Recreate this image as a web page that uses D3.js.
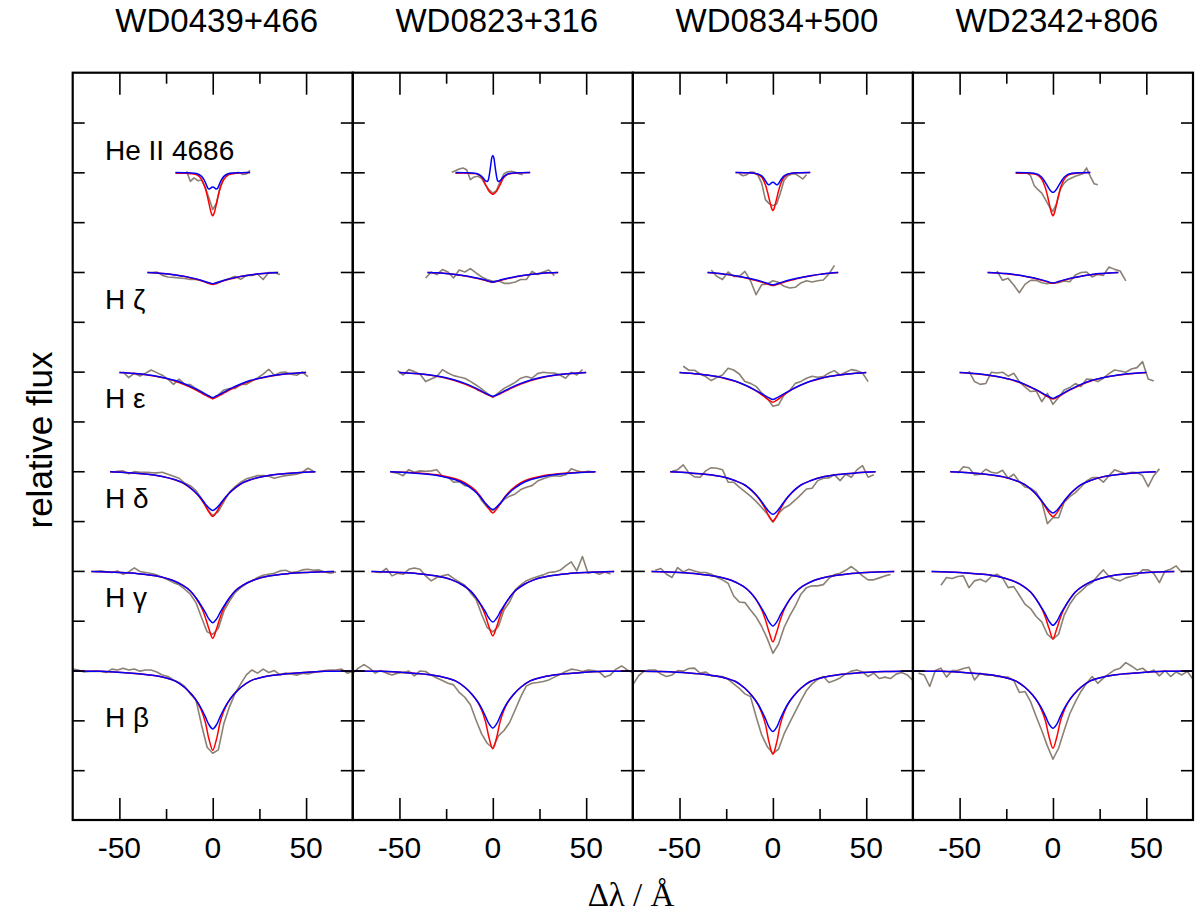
<!DOCTYPE html>
<html><head><meta charset="utf-8">
<script src="https://cdnjs.cloudflare.com/ajax/libs/d3/7.8.5/d3.min.js"></script>
<style>body{margin:0;background:#fff}</style>
</head><body><svg id="c" width="1200" height="913"></svg>
<script>
// ---------------- DATA ----------------
const stars = ["WD0439+466","WD0823+316","WD0834+500","WD2342+806"];
const lineLabels = ["He II 4686","H \u03b6","H \u03b5","H \u03b4","H \u03b3","H \u03b2"];
const lineOffsets = [2.5, 2.0, 1.5, 1.0, 0.5, 0.0];
const xTickMajor = [-50, 0, 50];
const xTickMinor = [-25, 25];
const xTickLabels = ["-50", "0", "50"];
const yTickValues = [0.5,0.75,1.0,1.25,1.5,1.75,2.0,2.25,2.5,2.75,3.0,3.25,3.5,3.75];

// model wavelength grids (Δλ / Å)
const modX_HeII = [-20,-14,-10,-8,-6,-5,-4,-3,-2.5,-2,-1.5,-1,-0.5,0,0.5,1,1.5,2,2.5,3,4,5,6,8,10,14,20];
const modX_Hz = [-35,-30,-25,-20,-15,-10,-5,-2,0,2,5,10,15,20,25,30,35];
const modX_He = [-50,-40,-30,-25,-20,-15,-10,-7,-4,-2,0,2,4,7,10,15,20,25,30,40,50];
const modX_Hd = [-55,-45,-35,-27,-20,-15,-10,-7,-4,-2,0,2,4,7,10,15,20,27,35,45,55];
const modX_Hg = [-65,-50,-40,-30,-22,-16,-12,-9,-6,-4,-2,0,2,4,6,9,12,16,22,30,40,50,65];
const modX_Hb = [-75,-60,-45,-35,-27,-20,-15,-11,-8,-6,-4,-2,0,2,4,6,8,11,15,20,27,35,45,60,75];

// red models, one array per star
const red_HeII = [
 [0.995,0.995,0.992,0.985,0.965,0.945,0.920,0.885,0.865,0.843,0.822,0.803,0.789,0.782,0.789,0.803,0.822,0.843,0.865,0.885,0.920,0.945,0.965,0.985,0.992,0.997,0.999],
 [0.996,0.996,0.994,0.990,0.975,0.960,0.940,0.922,0.912,0.905,0.900,0.895,0.892,0.890,0.892,0.895,0.900,0.905,0.912,0.922,0.940,0.960,0.975,0.990,0.994,0.997,0.999],
 [0.999,0.998,0.995,0.990,0.975,0.960,0.938,0.905,0.887,0.867,0.848,0.830,0.815,0.808,0.815,0.830,0.848,0.867,0.887,0.905,0.938,0.960,0.975,0.990,0.995,0.998,0.999],
 [0.995,0.995,0.992,0.985,0.965,0.945,0.920,0.885,0.865,0.843,0.822,0.803,0.789,0.782,0.789,0.803,0.822,0.843,0.865,0.885,0.920,0.945,0.965,0.985,0.992,0.997,0.999]];
const blue_HeII = [
 [0.999,0.998,0.996,0.992,0.980,0.968,0.950,0.928,0.919,0.916,0.918,0.922,0.925,0.926,0.925,0.922,0.918,0.916,0.919,0.928,0.950,0.968,0.980,0.992,0.996,0.998,0.999],
 [0.999,0.998,0.996,0.992,0.980,0.970,0.958,0.954,0.960,0.980,1.010,1.045,1.075,1.085,1.075,1.045,1.010,0.980,0.960,0.954,0.958,0.970,0.980,0.992,0.996,0.998,0.999],
 [0.999,0.998,0.996,0.992,0.982,0.972,0.958,0.943,0.939,0.938,0.941,0.945,0.949,0.950,0.949,0.945,0.941,0.938,0.939,0.943,0.958,0.972,0.982,0.992,0.996,0.998,0.999],
 [0.999,0.998,0.995,0.990,0.975,0.963,0.948,0.932,0.924,0.917,0.910,0.905,0.901,0.900,0.901,0.905,0.910,0.917,0.924,0.932,0.948,0.963,0.975,0.990,0.995,0.998,0.999]];
const red_Hz = [
 [0.998,0.995,0.991,0.985,0.977,0.966,0.953,0.942,0.937,0.942,0.953,0.966,0.977,0.985,0.991,0.995,0.998],
 [0.998,0.996,0.992,0.987,0.980,0.971,0.960,0.952,0.948,0.952,0.960,0.971,0.980,0.987,0.992,0.996,0.998],
 [0.997,0.993,0.988,0.980,0.971,0.959,0.946,0.937,0.932,0.937,0.946,0.959,0.971,0.980,0.988,0.993,0.997],
 [0.998,0.995,0.991,0.986,0.978,0.969,0.956,0.947,0.943,0.947,0.956,0.969,0.978,0.986,0.991,0.995,0.998]];
const blue_Hz = [
 [0.998,0.995,0.991,0.985,0.978,0.968,0.955,0.946,0.941,0.946,0.955,0.968,0.978,0.985,0.991,0.995,0.998],
 [0.998,0.996,0.992,0.987,0.981,0.972,0.962,0.954,0.950,0.954,0.962,0.972,0.981,0.987,0.992,0.996,0.998],
 [0.997,0.994,0.988,0.981,0.972,0.962,0.949,0.940,0.936,0.940,0.949,0.962,0.972,0.981,0.988,0.994,0.997],
 [0.998,0.995,0.992,0.986,0.979,0.970,0.958,0.949,0.945,0.949,0.958,0.970,0.979,0.986,0.992,0.995,0.998]];
const red_He = [
 [0.996,0.989,0.976,0.966,0.952,0.934,0.913,0.897,0.882,0.872,0.864,0.872,0.882,0.897,0.913,0.934,0.952,0.966,0.976,0.989,0.996],
 [0.996,0.989,0.977,0.967,0.954,0.937,0.917,0.903,0.889,0.881,0.874,0.881,0.889,0.903,0.917,0.937,0.954,0.967,0.977,0.989,0.996],
 [0.996,0.988,0.975,0.964,0.951,0.932,0.908,0.891,0.870,0.856,0.846,0.856,0.870,0.891,0.908,0.932,0.951,0.964,0.975,0.988,0.996],
 [0.996,0.988,0.975,0.965,0.952,0.934,0.912,0.897,0.880,0.870,0.863,0.870,0.880,0.897,0.912,0.934,0.952,0.965,0.975,0.988,0.996]];
const blue_He = [
 [0.996,0.989,0.977,0.967,0.955,0.938,0.917,0.902,0.887,0.878,0.870,0.878,0.887,0.902,0.917,0.938,0.955,0.967,0.977,0.989,0.996],
 [0.996,0.989,0.978,0.969,0.957,0.941,0.921,0.907,0.892,0.883,0.876,0.883,0.892,0.907,0.921,0.941,0.957,0.969,0.978,0.989,0.996],
 [0.996,0.988,0.975,0.965,0.952,0.933,0.910,0.895,0.878,0.868,0.860,0.868,0.878,0.895,0.910,0.933,0.952,0.965,0.975,0.988,0.996],
 [0.996,0.989,0.976,0.966,0.954,0.936,0.914,0.900,0.883,0.874,0.866,0.874,0.883,0.900,0.914,0.936,0.954,0.966,0.976,0.989,0.996]];
const red_Hd = [
 [0.997,0.993,0.985,0.974,0.956,0.936,0.900,0.870,0.828,0.795,0.774,0.795,0.828,0.870,0.900,0.936,0.956,0.974,0.985,0.993,0.997],
 [0.997,0.994,0.987,0.978,0.962,0.943,0.908,0.878,0.838,0.810,0.791,0.810,0.838,0.878,0.908,0.943,0.962,0.978,0.987,0.994,0.997],
 [0.997,0.992,0.984,0.972,0.952,0.930,0.890,0.857,0.810,0.773,0.750,0.773,0.810,0.857,0.890,0.930,0.952,0.972,0.984,0.992,0.997],
 [0.997,0.993,0.984,0.972,0.953,0.932,0.893,0.861,0.820,0.790,0.772,0.790,0.820,0.861,0.893,0.932,0.953,0.972,0.984,0.993,0.997]];
const blue_Hd = [
 [0.997,0.993,0.985,0.974,0.957,0.937,0.901,0.872,0.836,0.815,0.803,0.815,0.836,0.872,0.901,0.937,0.957,0.974,0.985,0.993,0.997],
 [0.997,0.993,0.985,0.974,0.957,0.936,0.902,0.874,0.840,0.820,0.808,0.820,0.840,0.874,0.902,0.936,0.957,0.974,0.985,0.993,0.997],
 [0.997,0.992,0.984,0.972,0.952,0.931,0.892,0.860,0.821,0.797,0.784,0.797,0.821,0.860,0.892,0.931,0.952,0.972,0.984,0.992,0.997],
 [0.997,0.993,0.984,0.973,0.954,0.933,0.895,0.863,0.826,0.803,0.790,0.803,0.826,0.863,0.895,0.933,0.954,0.973,0.984,0.993,0.997]];
const red_Hg = [
 [0.997,0.992,0.986,0.974,0.954,0.927,0.899,0.864,0.815,0.768,0.708,0.662,0.708,0.768,0.815,0.864,0.899,0.927,0.954,0.974,0.986,0.992,0.997],
 [0.997,0.992,0.986,0.974,0.955,0.928,0.900,0.866,0.820,0.776,0.718,0.674,0.718,0.776,0.820,0.866,0.900,0.928,0.955,0.974,0.986,0.992,0.997],
 [0.997,0.992,0.985,0.972,0.952,0.923,0.892,0.856,0.805,0.755,0.692,0.644,0.692,0.755,0.805,0.856,0.892,0.923,0.952,0.972,0.985,0.992,0.997],
 [0.997,0.992,0.985,0.973,0.952,0.924,0.894,0.858,0.810,0.766,0.708,0.660,0.708,0.766,0.810,0.858,0.894,0.924,0.952,0.973,0.985,0.992,0.997]];
const blue_Hg = [
 [0.997,0.992,0.986,0.974,0.954,0.927,0.899,0.865,0.823,0.792,0.758,0.740,0.758,0.792,0.823,0.865,0.899,0.927,0.954,0.974,0.986,0.992,0.997],
 [0.997,0.992,0.986,0.974,0.955,0.928,0.900,0.867,0.826,0.795,0.762,0.744,0.762,0.795,0.826,0.867,0.900,0.928,0.955,0.974,0.986,0.992,0.997],
 [0.997,0.992,0.985,0.972,0.952,0.923,0.892,0.857,0.812,0.779,0.743,0.724,0.743,0.779,0.812,0.857,0.892,0.923,0.952,0.972,0.985,0.992,0.997],
 [0.997,0.992,0.985,0.973,0.952,0.924,0.894,0.858,0.814,0.782,0.746,0.727,0.746,0.782,0.814,0.858,0.894,0.924,0.952,0.973,0.985,0.992,0.997]];
const red_Hb = [
 [0.998,0.996,0.988,0.979,0.968,0.947,0.915,0.877,0.837,0.798,0.742,0.655,0.600,0.655,0.742,0.798,0.837,0.877,0.915,0.947,0.968,0.979,0.988,0.996,0.998],
 [0.998,0.996,0.988,0.980,0.968,0.948,0.916,0.879,0.840,0.802,0.747,0.662,0.607,0.662,0.747,0.802,0.840,0.879,0.916,0.948,0.968,0.980,0.988,0.996,0.998],
 [0.998,0.995,0.988,0.979,0.966,0.945,0.911,0.871,0.830,0.788,0.730,0.638,0.580,0.638,0.730,0.788,0.830,0.871,0.911,0.945,0.966,0.979,0.988,0.995,0.998],
 [0.998,0.996,0.988,0.980,0.968,0.948,0.916,0.878,0.839,0.800,0.747,0.664,0.610,0.664,0.747,0.800,0.839,0.878,0.916,0.948,0.968,0.980,0.988,0.996,0.998]];
const blue_Hb = [
 [0.998,0.996,0.988,0.979,0.968,0.947,0.915,0.877,0.839,0.807,0.769,0.728,0.707,0.728,0.769,0.807,0.839,0.877,0.915,0.947,0.968,0.979,0.988,0.996,0.998],
 [0.998,0.996,0.988,0.980,0.968,0.948,0.916,0.879,0.842,0.810,0.772,0.732,0.712,0.732,0.772,0.810,0.842,0.879,0.916,0.948,0.968,0.980,0.988,0.996,0.998],
 [0.998,0.995,0.988,0.979,0.966,0.945,0.911,0.871,0.832,0.798,0.758,0.715,0.694,0.715,0.758,0.798,0.832,0.871,0.911,0.945,0.966,0.979,0.988,0.995,0.998],
 [0.998,0.996,0.988,0.980,0.968,0.948,0.916,0.878,0.840,0.809,0.771,0.730,0.710,0.730,0.771,0.809,0.840,0.878,0.916,0.948,0.968,0.980,0.988,0.996,0.998]];

// observed wavelength grids
const obsX_HeII = [-22,-20,-18,-16,-14,-12,-10,-8,-6,-4,-2,0,2,4,6,8,10,12,14,16,18,20,22,24,26];
const obsX_Hz = [-39,-36,-33,-30,-27,-24,-21,-18,-15,-12,-9,-6,-3,0,3,6,9,12,15,18,21,24,27,30,33,36,39];
const obsX_He = [-54,-51,-48,-45,-42,-39,-36,-33,-30,-27,-24,-21,-18,-15,-12,-9,-6,-3,0,3,6,9,12,15,18,21,24,27,30,33,36,39,42,45,48,51,54];
const obsX_Hd = [-57,-54,-51,-48,-45,-42,-39,-36,-33,-30,-27,-24,-21,-18,-15,-12,-9,-6,-3,0,3,6,9,12,15,18,21,24,27,30,33,36,39,42,45,48,51,54,57,60];
const obsX_Hg = [-66,-63,-60,-57,-54,-51,-48,-45,-42,-39,-36,-33,-30,-27,-24,-21,-18,-15,-12,-9,-6,-3,0,3,6,9,12,15,18,21,24,27,30,33,36,39,42,45,48,51,54,57,60,63,66,69];
const obsX_Hb = [-75,-72,-69,-66,-63,-60,-57,-54,-51,-48,-45,-42,-39,-36,-33,-30,-27,-24,-21,-18,-15,-12,-9,-6,-3,0,3,6,9,12,15,18,21,24,27,30,33,36,39,42,45,48,51,54,57,60,63,66,69,72,75];

// observed spectra (null = not covered)
const obs_HeII = [
 [null,null,null,null,1.005,0.955,0.972,0.958,0.962,0.925,0.870,0.813,0.845,0.930,0.980,0.993,0.996,0.997,1.000,0.990,0.992,1.010,null,null,null],
 [1.000,1.008,1.017,1.022,1.013,0.963,0.977,0.980,0.970,0.938,0.913,0.896,0.910,0.955,0.993,1.003,1.005,1.000,0.993,0.988,null,null,null,null,null],
 [null,null,0.993,0.983,0.988,1.002,1.000,0.985,0.946,0.863,0.843,0.833,0.841,0.896,0.960,0.983,0.990,0.993,0.980,0.967,0.988,null,null,null,null],
 [null,null,null,null,1.000,0.983,0.933,0.913,0.896,0.863,0.829,0.804,0.846,0.916,0.946,0.963,0.972,0.980,0.987,0.993,1.022,0.980,0.943,0.938,null]];
const obs_Hz = [
 [null,null,0.997,1.000,0.983,0.975,0.973,0.970,0.967,0.962,0.963,0.956,0.946,0.941,0.950,0.958,0.967,0.978,0.963,0.983,0.983,0.990,0.962,0.997,0.997,0.987,null],
 [null,0.970,1.000,0.987,1.012,1.000,0.970,1.010,1.000,1.017,0.995,0.975,0.962,0.953,0.956,0.943,0.943,0.950,0.962,0.962,1.003,0.987,1.000,1.010,0.982,null,null],
 [null,null,1.010,0.978,0.962,1.000,0.978,0.978,1.003,0.956,0.886,0.936,0.940,0.956,0.948,0.928,0.920,0.923,0.945,0.956,0.950,0.956,0.960,0.990,1.033,null,null],
 [null,null,null,1.005,0.958,0.968,0.935,0.896,0.938,0.958,0.958,0.946,0.941,0.946,0.946,0.955,0.951,0.985,0.997,1.000,0.975,0.988,0.983,1.025,1.013,1.005,0.955]];
const obs_He = [
 [null,null,0.998,0.970,0.992,0.978,0.992,1.008,0.995,0.982,0.962,0.936,0.962,0.936,0.935,0.915,0.900,0.883,0.864,0.883,0.908,0.915,0.915,0.935,0.936,0.953,0.968,0.987,1.012,0.982,0.995,0.998,0.987,0.982,0.998,0.975,null],
 [null,1.005,0.983,1.010,1.000,0.988,0.950,0.963,0.975,1.010,0.993,0.980,0.973,0.967,0.951,0.933,0.913,0.891,0.871,0.893,0.916,0.930,0.946,0.967,0.975,0.967,0.990,0.997,0.993,0.993,0.983,0.967,0.997,0.983,1.010,null,null],
 [null,null,1.027,1.007,1.007,0.988,0.975,0.955,0.972,0.983,1.017,1.008,0.988,0.950,0.941,0.926,0.893,0.866,0.826,0.833,0.883,0.905,0.941,0.951,0.967,0.977,0.972,0.975,0.993,1.005,0.983,0.997,1.010,1.005,0.993,0.950,null],
 [null,null,null,1.003,0.950,0.936,0.940,0.997,0.993,0.997,0.977,0.992,0.950,0.923,0.900,0.903,0.849,0.891,0.836,0.870,0.908,0.920,0.940,0.925,0.963,0.960,0.950,0.967,0.990,1.008,1.003,0.997,1.013,1.020,1.050,0.963,0.953]];
const obs_Hd = [
 [null,0.995,1.000,1.002,0.987,0.998,0.995,0.995,0.993,0.992,0.995,0.985,0.975,0.965,0.941,0.928,0.903,0.864,0.811,0.777,0.798,0.848,0.895,0.923,0.945,0.962,0.970,0.978,0.978,0.975,0.965,0.972,0.978,0.982,0.985,0.995,1.015,1.000,null,null],
 [null,0.995,0.990,0.978,1.008,0.995,1.002,1.000,1.002,1.008,0.975,0.970,0.945,0.948,0.928,0.925,0.903,0.853,0.819,0.803,0.824,0.858,0.875,0.886,0.908,0.920,0.928,0.951,0.962,0.972,0.978,0.975,0.982,1.012,1.002,0.995,1.000,0.997,null,null],
 [null,1.000,1.008,1.032,0.992,0.972,0.970,1.002,1.018,1.015,1.008,0.945,0.945,0.920,0.898,0.875,0.849,0.818,0.786,0.744,0.789,0.816,0.831,0.856,0.883,0.911,0.915,0.953,0.965,0.967,0.982,0.953,0.985,0.970,1.007,1.028,0.970,0.982,null,null],
 [null,null,0.990,1.023,1.018,0.982,0.985,1.010,0.995,0.990,1.005,0.965,0.985,0.948,0.921,0.915,0.895,0.848,0.737,0.767,0.767,0.844,0.873,0.893,0.921,0.951,0.968,0.968,0.945,0.978,1.007,0.998,0.987,0.995,0.993,0.978,0.923,0.978,1.012,null]];
const obs_Hg = [
 [null,0.997,1.000,0.995,0.992,1.000,0.983,0.995,1.015,0.997,0.992,0.987,0.980,0.968,0.955,0.941,0.930,0.908,0.883,0.841,0.766,0.694,0.682,0.711,0.799,0.849,0.891,0.916,0.936,0.950,0.967,0.978,0.983,0.988,1.000,1.003,0.992,0.995,1.005,1.008,1.003,1.005,0.995,0.988,0.995,null],
 [null,0.995,0.992,1.012,0.975,0.988,0.983,1.008,1.015,1.008,0.975,0.950,0.967,0.975,0.982,0.962,0.945,0.928,0.891,0.858,0.782,0.716,0.694,0.721,0.804,0.844,0.905,0.930,0.951,0.962,0.972,0.980,0.992,0.995,1.003,1.025,1.045,1.000,1.072,0.988,0.995,0.983,0.995,0.985,null,null],
 [null,1.003,1.012,0.983,0.967,1.017,0.995,1.008,1.000,0.992,0.992,0.983,0.968,0.955,0.938,0.874,0.844,0.841,0.804,0.769,0.721,0.660,0.587,0.632,0.716,0.774,0.824,0.883,0.916,0.925,0.925,0.931,0.962,0.982,0.988,1.003,1.022,1.000,0.975,0.955,0.955,0.965,0.975,0.982,null,null],
 [null,null,0.928,0.967,0.962,0.972,0.975,0.916,0.950,0.958,0.945,0.972,0.983,0.965,0.916,0.921,0.878,0.833,0.811,0.771,0.744,0.682,0.657,0.682,0.777,0.833,0.874,0.898,0.925,0.941,0.975,1.005,0.972,0.958,0.950,0.965,0.972,0.978,1.005,1.005,0.987,0.941,1.000,1.008,1.025,0.992]];
const obs_Hb = [
 [1.007,1.003,0.993,0.995,0.997,0.995,0.990,1.007,1.003,1.012,1.003,1.008,0.997,1.003,1.003,0.993,0.978,0.970,0.953,0.940,0.920,0.883,0.853,0.727,0.615,0.585,0.602,0.736,0.819,0.886,0.933,0.978,1.003,0.987,1.007,0.990,1.000,0.978,0.987,0.983,0.977,0.987,0.983,0.990,0.995,1.000,1.003,1.003,1.007,0.987,0.995],
 [0.987,1.012,1.030,1.012,0.987,1.000,0.987,0.978,0.987,0.990,0.997,0.973,0.998,0.995,0.977,0.963,0.950,0.936,0.928,0.890,0.866,0.828,0.752,0.682,0.635,0.610,0.672,0.699,0.739,0.803,0.869,0.923,0.936,0.940,0.945,0.953,0.967,0.980,0.995,1.007,1.003,0.995,1.003,1.000,0.993,0.967,0.978,1.007,1.023,1.003,0.990],
 [0.928,0.973,0.997,1.003,1.003,0.983,0.970,0.978,1.000,0.997,1.010,1.012,0.987,0.993,0.973,0.973,0.970,0.956,0.933,0.911,0.883,0.869,0.769,0.677,0.618,0.585,0.605,0.682,0.739,0.794,0.849,0.900,0.933,0.956,0.970,0.940,0.950,0.963,0.983,0.997,1.003,0.993,0.970,0.987,0.960,0.967,0.960,0.982,0.990,0.978,0.950],
 [null,0.987,0.978,0.920,1.000,1.012,0.967,1.000,1.000,1.010,1.017,0.953,0.987,0.977,0.978,0.970,0.968,0.967,0.950,0.890,0.895,0.844,0.769,0.699,0.622,0.555,0.610,0.699,0.783,0.843,0.895,0.936,0.970,0.936,0.962,0.983,1.003,1.012,1.040,1.023,1.003,1.012,0.990,1.003,0.973,1.000,0.970,0.993,0.978,0.995,0.956]];

// ---------------- DRAWING ----------------
const modX = [modX_HeII, modX_Hz, modX_He, modX_Hd, modX_Hg, modX_Hb];
const redM = [red_HeII, red_Hz, red_He, red_Hd, red_Hg, red_Hb];
const blueM = [blue_HeII, blue_Hz, blue_He, blue_Hd, blue_Hg, blue_Hb];
const obsX = [obsX_HeII, obsX_Hz, obsX_He, obsX_Hd, obsX_Hg, obsX_Hb];
const obsY = [obs_HeII, obs_Hz, obs_He, obs_Hd, obs_Hg, obs_Hb];

const svg = d3.select("#c");
const plotL = 72.7, plotR = 1193, plotT = 72.7, plotB = 820;
const panelW = (plotR - plotL) / stars.length;
const y = d3.scaleLinear().domain([0.25, 4.0]).range([plotB, plotT]);
const FONT = "'Liberation Sans', Arial, Helvetica, sans-serif";
const obsColor = "#8b8175", redColor = "#ff0000", blueColor = "#0000ff";

stars.forEach((name, p) => {
  const x0 = plotL + p * panelW;
  const x = d3.scaleLinear().domain([-75, 75]).range([x0, x0 + panelW]);
  const g = svg.append("g");

  lineOffsets.forEach((off, j) => {
    const obsPts = obsX[j].map((xv, k) => [xv, obsY[j][p][k]]);
    const lineObs = d3.line().defined(d => d[1] != null)
      .x(d => x(d[0])).y(d => y(d[1] + off));
    g.append("path").attr("d", lineObs(obsPts))
      .attr("fill", "none").attr("stroke", obsColor).attr("stroke-width", 1.6)
      .attr("stroke-linejoin", "round");
    const lineMod = d3.line().curve(d3.curveCatmullRom.alpha(0.5))
      .x(d => x(d[0])).y(d => y(d[1] + off));
    g.append("path").attr("d", lineMod(modX[j].map((xv, k) => [xv, redM[j][p][k]])))
      .attr("fill", "none").attr("stroke", redColor).attr("stroke-width", 1.5);
    g.append("path").attr("d", lineMod(modX[j].map((xv, k) => [xv, blueM[j][p][k]])))
      .attr("fill", "none").attr("stroke", blueColor).attr("stroke-width", 1.5);
  });

  // y ticks (left and right, inward)
  const yl = g.append("g").attr("transform", `translate(${x0},0)`)
    .call(d3.axisRight(y).tickValues(yTickValues).tickSize(12).tickFormat(""));
  const yr = g.append("g").attr("transform", `translate(${x0 + panelW},0)`)
    .call(d3.axisLeft(y).tickValues(yTickValues).tickSize(12).tickFormat(""));
  // x ticks top and bottom, inward
  const xb = g.append("g").attr("transform", `translate(0,${plotB})`)
    .call(d3.axisTop(x).tickValues(xTickMajor).tickSize(22).tickFormat(""));
  const xbm = g.append("g").attr("transform", `translate(0,${plotB})`)
    .call(d3.axisTop(x).tickValues(xTickMinor).tickSize(11).tickFormat(""));
  const xt = g.append("g").attr("transform", `translate(0,${plotT})`)
    .call(d3.axisBottom(x).tickValues(xTickMajor).tickSize(22).tickFormat(""));
  const xtm = g.append("g").attr("transform", `translate(0,${plotT})`)
    .call(d3.axisBottom(x).tickValues(xTickMinor).tickSize(11).tickFormat(""));
  [yl, yr, xb, xbm, xt, xtm].forEach(a => {
    a.select(".domain").remove();
    a.selectAll(".tick line").attr("stroke", "#000").attr("stroke-width", 1.6);
  });

  // frame
  g.append("rect").attr("x", x0).attr("y", plotT).attr("width", panelW).attr("height", plotB - plotT)
    .attr("fill", "none").attr("stroke", "#000").attr("stroke-width", 2.2);

  // tick labels
  g.selectAll(".xl").data(xTickMajor).enter().append("text")
    .attr("x", d => x(d)).attr("y", 858).attr("text-anchor", "middle")
    .attr("font-family", FONT).attr("font-size", 30)
    .text((d, i) => xTickLabels[i]);

  // title
  g.append("text").attr("x", x(0) + 4).attr("y", 32).attr("text-anchor", "middle")
    .attr("font-family", FONT).attr("font-size", 33).text(name);
});

// line labels (first panel)
const xFirst = d3.scaleLinear().domain([-75, 75]).range([plotL, plotL + panelW]);
const labelY = [3.562, 2.814, 2.317, 1.815, 1.318, 0.715];
lineLabels.forEach((t, j) => {
  svg.append("text").attr("x", xFirst(-57.7)).attr("y", y(labelY[j]))
    .attr("font-family", FONT).attr("font-size", 28).text(t);
});

// axis titles
svg.append("text").attr("transform", `translate(52,440) rotate(-90)`)
  .attr("text-anchor", "middle").attr("font-family", FONT).attr("font-size", 35)
  .text("relative flux");
svg.append("text").attr("x", 631).attr("y", 906).attr("text-anchor", "middle")
  .attr("font-family", "'Liberation Serif', 'Times New Roman', serif").attr("font-size", 33)
  .text("\u0394\u03bb / \u00c5");
</script></body></html>
